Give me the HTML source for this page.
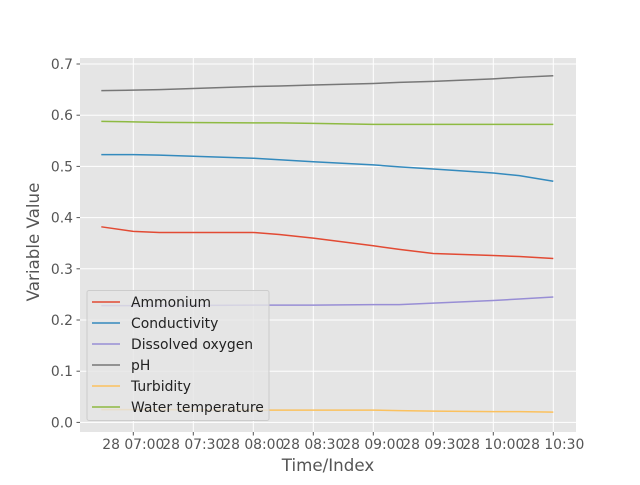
<!DOCTYPE html>
<html><head><meta charset="utf-8"><style>
body{margin:0;background:#fff}
svg text{font-family:"DejaVu Sans","Liberation Sans",sans-serif}
</style></head><body>
<svg id="chart" width="640" height="480" xmlns="http://www.w3.org/2000/svg"></svg>
<script>
const times=["06:44","07:00","07:13","08:00","08:13","08:30","09:00","09:13","09:30","10:00","10:13","10:30"];
const seriesNames=["Ammonium","Conductivity","Dissolved oxygen","pH","Turbidity","Water temperature"];
const colors=["#E24A33","#348ABD","#988ED5","#777777","#FBC15E","#8EBA42"];
const ammonium=[0.382,0.373,0.371,0.371,0.367,0.360,0.345,0.338,0.330,0.326,0.324,0.320];
const conductivity=[0.523,0.523,0.522,0.516,0.513,0.509,0.503,0.499,0.495,0.487,0.482,0.471];
const dissolvedOxygen=[0.228,0.228,0.228,0.229,0.229,0.229,0.230,0.230,0.233,0.238,0.241,0.245];
const ph=[0.648,0.649,0.650,0.656,0.657,0.659,0.662,0.664,0.666,0.671,0.674,0.677];
const turbidity=[0.025,0.025,0.025,0.024,0.024,0.024,0.024,0.023,0.022,0.021,0.021,0.020];
const waterTemp=[0.588,0.587,0.586,0.585,0.585,0.584,0.582,0.582,0.582,0.582,0.582,0.582];
const yTicks=[0,0.1,0.2,0.3,0.4,0.5,0.6,0.7];
const xTickLabels=["28 07:00","28 07:30","28 08:00","28 08:30","28 09:00","28 09:30","28 10:00","28 10:30"];
const xTickTimes=["07:00","07:30","08:00","08:30","09:00","09:30","10:00","10:30"];
const allSeries=[ammonium,conductivity,dissolvedOxygen,ph,turbidity,waterTemp];

const NS="http://www.w3.org/2000/svg";
const svg=document.getElementById('chart');
const L=80,R=576,T=58,B=432;
function mins(t){const p=t.split(':');return +p[0]*60+ +p[1];}
function x(t){return 133.3+(mins(t)-420)*2;}
function y(v){return 422.4-v*512;}
function el(tag,attrs,parent){const e=document.createElementNS(NS,tag);for(const k in attrs)e.setAttribute(k,attrs[k]);(parent||svg).appendChild(e);return e;}
const bg=el('rect',{x:L,y:T,width:R-L,height:B-T,fill:'#E5E5E5'});


yTicks.forEach(v=>{
  const g=el('line',{x1:L,x2:R,y1:y(v),y2:y(v),stroke:'#fff','stroke-width':1});
  
  
  el('line',{x1:L-3.5,x2:L,y1:y(v),y2:y(v),stroke:'#555'});
  const t=el('text',{x:L-7,y:y(v)+5,'text-anchor':'end','font-size':13.9,fill:'#555'});
  t.textContent=v.toFixed(1);
  
  
});
xTickTimes.forEach((tt,i)=>{
  const g=el('line',{x1:x(tt),x2:x(tt),y1:T,y2:B,stroke:'#fff','stroke-width':1});
  
  
  el('line',{x1:x(tt),x2:x(tt),y1:B,y2:B+3.5,stroke:'#555'});
  const t=el('text',{x:x(tt),y:B+17,'text-anchor':'middle','font-size':13.9,fill:'#555'});
  t.textContent=xTickLabels[i];
  
  
});
allSeries.forEach((s,i)=>{
  const p=el('polyline',{points:s.map((v,j)=>x(times[j])+','+y(v)).join(' '),fill:'none',stroke:colors[i],'stroke-width':1.5});
  
  
});
const xt=el('text',{x:328,y:471,'text-anchor':'middle','font-size':16.7,fill:'#555'});
xt.textContent='Time/Index';


const yt=el('text',{x:39,y:242,'text-anchor':'middle','font-size':16.7,fill:'#555',transform:'rotate(-90 39 242)'});
yt.textContent='Variable Value';


const lg=el('g',{});


el('rect',{x:87,y:290.5,width:182,height:130,rx:2,fill:'#E5E5E5','fill-opacity':0.8,stroke:'#ccc'},lg);
seriesNames.forEach((n,i)=>{
  const yy=302+i*21;
  el('line',{x1:92,x2:120,y1:yy,y2:yy,stroke:colors[i],'stroke-width':1.5},lg);
  const t=el('text',{x:131,y:yy+5,'font-size':13.9,fill:'#222'},lg);
  t.textContent=n;
  
  
});
</script>
</body></html>
